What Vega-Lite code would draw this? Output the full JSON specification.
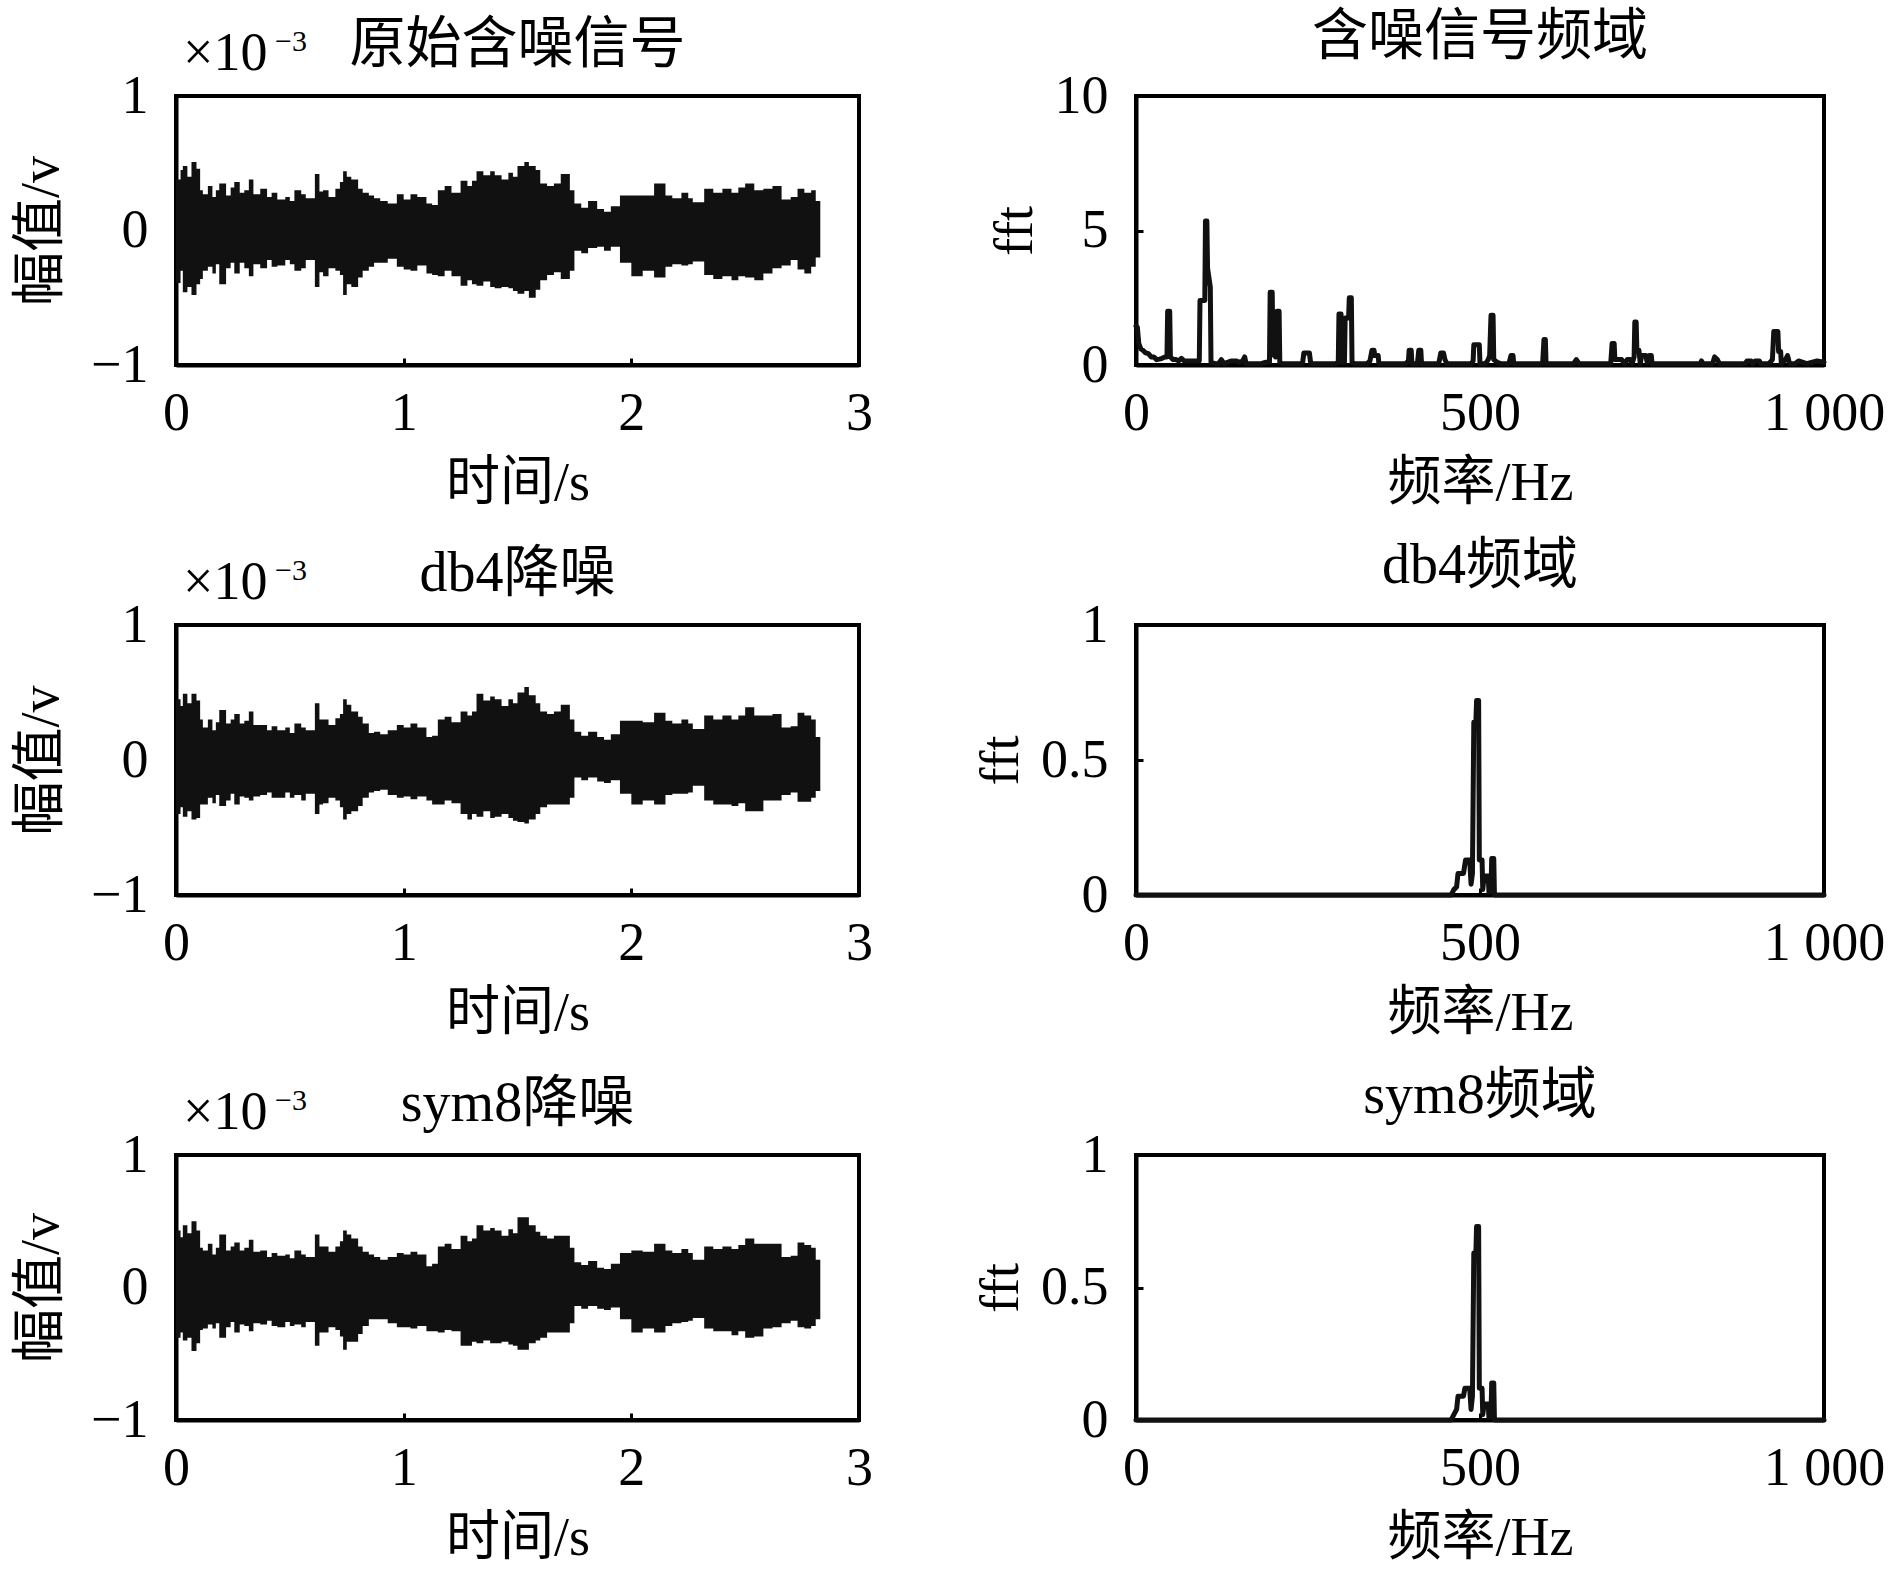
{
  "$schema": "https://vega.github.io/schema/vega-lite/v6.json",
  "background": "white",
  "padding": {"left": 12, "top": 7, "right": 5, "bottom": 5},
  "config": {
    "font": "Liberation Serif, Noto Sans CJK SC",
    "view": {"stroke": "#000", "strokeWidth": 4},
    "axis": {
      "domainColor": "#000", "domainWidth": 4,
      "tickColor": "#000", "tickWidth": 3, "tickSize": -7,
      "labelFont": "Liberation Serif", "labelFontSize": 54, "labelColor": "#000",
      "labelFlush": false, "labelOverlap": false, "labelBound": false, "format": "~r",
      "titleFont": "Liberation Serif, Noto Sans CJK SC", "titleFontSize": 54,
      "titleFontWeight": "normal", "titleColor": "#000", "grid": false
    },
    "axisX": {"labelPadding": 28, "titlePadding": 16},
    "axisY": {"labelPadding": 35, "titlePadding": 22},
    "title": {"font": "Liberation Serif, Noto Sans CJK SC", "fontSize": 56, "fontWeight": "normal", "color": "#000", "anchor": "middle"}
  },
  "datasets": {
    "orig": [
      {"t":0.00,"up":0.38,"lo":-0.39},{"t":0.02,"up":0.45,"lo":-0.30},{"t":0.03,"up":0.48,"lo":-0.46},{"t":0.05,"up":0.40,"lo":-0.42},
      {"t":0.068,"up":0.51,"lo":-0.48},{"t":0.09,"up":0.46,"lo":-0.40},{"t":0.106,"up":0.30,"lo":-0.36},{"t":0.118,"up":0.27,"lo":-0.30},
      {"t":0.14,"up":0.33,"lo":-0.27},{"t":0.16,"up":0.25,"lo":-0.32},{"t":0.175,"up":0.30,"lo":-0.25},{"t":0.19,"up":0.35,"lo":-0.40},
      {"t":0.22,"up":0.26,"lo":-0.28},{"t":0.24,"up":0.32,"lo":-0.24},{"t":0.256,"up":0.36,"lo":-0.32},{"t":0.28,"up":0.28,"lo":-0.24},
      {"t":0.30,"up":0.30,"lo":-0.28},{"t":0.32,"up":0.38,"lo":-0.34},{"t":0.34,"up":0.27,"lo":-0.25},{"t":0.37,"up":0.31,"lo":-0.28},
      {"t":0.40,"up":0.25,"lo":-0.22},{"t":0.42,"up":0.28,"lo":-0.27},{"t":0.445,"up":0.23,"lo":-0.26},{"t":0.48,"up":0.25,"lo":-0.22},
      {"t":0.50,"up":0.22,"lo":-0.25},{"t":0.52,"up":0.30,"lo":-0.30},{"t":0.55,"up":0.27,"lo":-0.28},{"t":0.57,"up":0.24,"lo":-0.22},
      {"t":0.61,"up":0.42,"lo":-0.42},{"t":0.63,"up":0.29,"lo":-0.31},{"t":0.646,"up":0.30,"lo":-0.34},{"t":0.67,"up":0.25,"lo":-0.28},
      {"t":0.70,"up":0.31,"lo":-0.30},{"t":0.72,"up":0.36,"lo":-0.33},{"t":0.734,"up":0.44,"lo":-0.48},{"t":0.75,"up":0.40,"lo":-0.40},
      {"t":0.77,"up":0.38,"lo":-0.42},{"t":0.80,"up":0.31,"lo":-0.35},{"t":0.82,"up":0.28,"lo":-0.30},{"t":0.847,"up":0.26,"lo":-0.27},
      {"t":0.87,"up":0.24,"lo":-0.24},{"t":0.897,"up":0.22,"lo":-0.24},{"t":0.93,"up":0.20,"lo":-0.21},{"t":0.97,"up":0.27,"lo":-0.27},
      {"t":1.00,"up":0.23,"lo":-0.29},{"t":1.03,"up":0.27,"lo":-0.30},{"t":1.06,"up":0.25,"lo":-0.26},{"t":1.10,"up":0.20,"lo":-0.32},
      {"t":1.125,"up":0.19,"lo":-0.33},{"t":1.15,"up":0.30,"lo":-0.34},{"t":1.18,"up":0.33,"lo":-0.30},{"t":1.21,"up":0.28,"lo":-0.34},
      {"t":1.25,"up":0.37,"lo":-0.41},{"t":1.28,"up":0.33,"lo":-0.37},{"t":1.30,"up":0.37,"lo":-0.40},{"t":1.32,"up":0.44,"lo":-0.41},
      {"t":1.35,"up":0.41,"lo":-0.38},{"t":1.38,"up":0.44,"lo":-0.42},{"t":1.40,"up":0.41,"lo":-0.43},{"t":1.43,"up":0.38,"lo":-0.42},
      {"t":1.46,"up":0.43,"lo":-0.43},{"t":1.48,"up":0.40,"lo":-0.45},{"t":1.50,"up":0.48,"lo":-0.47},{"t":1.53,"up":0.51,"lo":-0.45},
      {"t":1.55,"up":0.48,"lo":-0.50},{"t":1.58,"up":0.45,"lo":-0.44},{"t":1.60,"up":0.35,"lo":-0.37},{"t":1.63,"up":0.33,"lo":-0.33},
      {"t":1.66,"up":0.35,"lo":-0.31},{"t":1.69,"up":0.42,"lo":-0.36},{"t":1.73,"up":0.30,"lo":-0.30},{"t":1.75,"up":0.20,"lo":-0.15},
      {"t":1.78,"up":0.17,"lo":-0.17},{"t":1.81,"up":0.22,"lo":-0.13},{"t":1.85,"up":0.16,"lo":-0.12},{"t":1.88,"up":0.14,"lo":-0.15},
      {"t":1.91,"up":0.18,"lo":-0.12},{"t":1.95,"up":0.26,"lo":-0.24},{"t":2.00,"up":0.26,"lo":-0.34},{"t":2.05,"up":0.26,"lo":-0.30},
      {"t":2.10,"up":0.35,"lo":-0.35},{"t":2.15,"up":0.26,"lo":-0.27},{"t":2.18,"up":0.24,"lo":-0.25},{"t":2.22,"up":0.28,"lo":-0.26},
      {"t":2.25,"up":0.24,"lo":-0.25},{"t":2.27,"up":0.21,"lo":-0.23},{"t":2.32,"up":0.31,"lo":-0.33},{"t":2.36,"up":0.28,"lo":-0.36},
      {"t":2.40,"up":0.31,"lo":-0.34},{"t":2.44,"up":0.28,"lo":-0.37},{"t":2.47,"up":0.32,"lo":-0.34},{"t":2.50,"up":0.35,"lo":-0.35},
      {"t":2.54,"up":0.30,"lo":-0.37},{"t":2.58,"up":0.31,"lo":-0.32},{"t":2.62,"up":0.33,"lo":-0.28},{"t":2.66,"up":0.23,"lo":-0.26},
      {"t":2.70,"up":0.25,"lo":-0.22},{"t":2.73,"up":0.31,"lo":-0.29},{"t":2.76,"up":0.28,"lo":-0.32},{"t":2.79,"up":0.30,"lo":-0.27},
      {"t":2.81,"up":0.22,"lo":-0.20},{"t":2.83,"up":0.22,"lo":-0.20}
    ],
    "db4": [
      {"t":0.00,"up":0.45,"lo":-0.40},{"t":0.02,"up":0.40,"lo":-0.35},{"t":0.03,"up":0.49,"lo":-0.42},{"t":0.05,"up":0.42,"lo":-0.38},
      {"t":0.068,"up":0.49,"lo":-0.44},{"t":0.09,"up":0.44,"lo":-0.43},{"t":0.106,"up":0.30,"lo":-0.33},{"t":0.118,"up":0.24,"lo":-0.33},
      {"t":0.14,"up":0.30,"lo":-0.28},{"t":0.16,"up":0.22,"lo":-0.32},{"t":0.175,"up":0.28,"lo":-0.26},{"t":0.19,"up":0.37,"lo":-0.34},
      {"t":0.22,"up":0.27,"lo":-0.30},{"t":0.24,"up":0.30,"lo":-0.25},{"t":0.256,"up":0.34,"lo":-0.33},{"t":0.28,"up":0.27,"lo":-0.27},
      {"t":0.30,"up":0.29,"lo":-0.28},{"t":0.32,"up":0.36,"lo":-0.30},{"t":0.34,"up":0.26,"lo":-0.27},{"t":0.37,"up":0.26,"lo":-0.26},
      {"t":0.40,"up":0.22,"lo":-0.24},{"t":0.42,"up":0.25,"lo":-0.28},{"t":0.445,"up":0.22,"lo":-0.28},{"t":0.48,"up":0.24,"lo":-0.24},
      {"t":0.50,"up":0.20,"lo":-0.28},{"t":0.52,"up":0.27,"lo":-0.26},{"t":0.55,"up":0.24,"lo":-0.30},{"t":0.57,"up":0.22,"lo":-0.25},
      {"t":0.61,"up":0.42,"lo":-0.40},{"t":0.63,"up":0.30,"lo":-0.33},{"t":0.646,"up":0.30,"lo":-0.32},{"t":0.67,"up":0.26,"lo":-0.28},
      {"t":0.70,"up":0.31,"lo":-0.30},{"t":0.72,"up":0.34,"lo":-0.35},{"t":0.734,"up":0.45,"lo":-0.44},{"t":0.75,"up":0.41,"lo":-0.40},
      {"t":0.77,"up":0.36,"lo":-0.38},{"t":0.80,"up":0.32,"lo":-0.34},{"t":0.82,"up":0.27,"lo":-0.28},{"t":0.847,"up":0.20,"lo":-0.24},
      {"t":0.87,"up":0.21,"lo":-0.23},{"t":0.897,"up":0.19,"lo":-0.22},{"t":0.93,"up":0.22,"lo":-0.26},{"t":0.97,"up":0.26,"lo":-0.28},
      {"t":1.00,"up":0.24,"lo":-0.27},{"t":1.03,"up":0.27,"lo":-0.29},{"t":1.06,"up":0.24,"lo":-0.27},{"t":1.10,"up":0.17,"lo":-0.30},
      {"t":1.125,"up":0.18,"lo":-0.33},{"t":1.15,"up":0.30,"lo":-0.33},{"t":1.18,"up":0.32,"lo":-0.30},{"t":1.21,"up":0.28,"lo":-0.32},
      {"t":1.25,"up":0.36,"lo":-0.40},{"t":1.28,"up":0.33,"lo":-0.44},{"t":1.30,"up":0.36,"lo":-0.40},{"t":1.32,"up":0.49,"lo":-0.42},
      {"t":1.35,"up":0.44,"lo":-0.38},{"t":1.38,"up":0.47,"lo":-0.43},{"t":1.40,"up":0.45,"lo":-0.42},{"t":1.43,"up":0.40,"lo":-0.40},
      {"t":1.46,"up":0.45,"lo":-0.43},{"t":1.48,"up":0.42,"lo":-0.45},{"t":1.50,"up":0.50,"lo":-0.46},{"t":1.53,"up":0.54,"lo":-0.47},
      {"t":1.55,"up":0.48,"lo":-0.44},{"t":1.58,"up":0.42,"lo":-0.40},{"t":1.60,"up":0.36,"lo":-0.35},{"t":1.63,"up":0.34,"lo":-0.33},
      {"t":1.66,"up":0.36,"lo":-0.33},{"t":1.69,"up":0.41,"lo":-0.33},{"t":1.73,"up":0.30,"lo":-0.28},{"t":1.75,"up":0.21,"lo":-0.13},
      {"t":1.78,"up":0.18,"lo":-0.15},{"t":1.81,"up":0.21,"lo":-0.13},{"t":1.85,"up":0.17,"lo":-0.16},{"t":1.88,"up":0.15,"lo":-0.17},
      {"t":1.91,"up":0.19,"lo":-0.15},{"t":1.95,"up":0.29,"lo":-0.25},{"t":2.00,"up":0.29,"lo":-0.33},{"t":2.05,"up":0.28,"lo":-0.30},
      {"t":2.10,"up":0.35,"lo":-0.33},{"t":2.15,"up":0.29,"lo":-0.26},{"t":2.18,"up":0.27,"lo":-0.25},{"t":2.22,"up":0.30,"lo":-0.25},
      {"t":2.25,"up":0.27,"lo":-0.24},{"t":2.27,"up":0.23,"lo":-0.19},{"t":2.32,"up":0.33,"lo":-0.30},{"t":2.36,"up":0.30,"lo":-0.33},
      {"t":2.40,"up":0.33,"lo":-0.33},{"t":2.44,"up":0.30,"lo":-0.34},{"t":2.47,"up":0.33,"lo":-0.32},{"t":2.50,"up":0.39,"lo":-0.38},
      {"t":2.54,"up":0.33,"lo":-0.38},{"t":2.58,"up":0.33,"lo":-0.30},{"t":2.62,"up":0.34,"lo":-0.30},{"t":2.66,"up":0.24,"lo":-0.26},
      {"t":2.70,"up":0.25,"lo":-0.24},{"t":2.73,"up":0.35,"lo":-0.31},{"t":2.76,"up":0.33,"lo":-0.31},{"t":2.79,"up":0.30,"lo":-0.28},
      {"t":2.81,"up":0.17,"lo":-0.23},{"t":2.83,"up":0.17,"lo":-0.23}
    ],
    "sym8": [
      {"t":0.00,"up":0.43,"lo":-0.38},{"t":0.02,"up":0.38,"lo":-0.34},{"t":0.03,"up":0.47,"lo":-0.40},{"t":0.05,"up":0.41,"lo":-0.38},
      {"t":0.068,"up":0.50,"lo":-0.48},{"t":0.09,"up":0.43,"lo":-0.42},{"t":0.106,"up":0.30,"lo":-0.32},{"t":0.118,"up":0.28,"lo":-0.31},
      {"t":0.14,"up":0.33,"lo":-0.28},{"t":0.16,"up":0.25,"lo":-0.31},{"t":0.175,"up":0.30,"lo":-0.27},{"t":0.19,"up":0.40,"lo":-0.38},
      {"t":0.22,"up":0.28,"lo":-0.30},{"t":0.24,"up":0.31,"lo":-0.26},{"t":0.256,"up":0.34,"lo":-0.34},{"t":0.28,"up":0.28,"lo":-0.28},
      {"t":0.30,"up":0.30,"lo":-0.29},{"t":0.32,"up":0.36,"lo":-0.33},{"t":0.34,"up":0.27,"lo":-0.27},{"t":0.37,"up":0.28,"lo":-0.28},
      {"t":0.40,"up":0.23,"lo":-0.25},{"t":0.42,"up":0.26,"lo":-0.29},{"t":0.445,"up":0.24,"lo":-0.30},{"t":0.48,"up":0.25,"lo":-0.26},
      {"t":0.50,"up":0.22,"lo":-0.29},{"t":0.52,"up":0.28,"lo":-0.28},{"t":0.55,"up":0.25,"lo":-0.30},{"t":0.57,"up":0.23,"lo":-0.26},
      {"t":0.61,"up":0.40,"lo":-0.44},{"t":0.63,"up":0.31,"lo":-0.34},{"t":0.646,"up":0.31,"lo":-0.34},{"t":0.67,"up":0.27,"lo":-0.30},
      {"t":0.70,"up":0.31,"lo":-0.32},{"t":0.72,"up":0.35,"lo":-0.37},{"t":0.734,"up":0.43,"lo":-0.47},{"t":0.75,"up":0.40,"lo":-0.41},
      {"t":0.77,"up":0.37,"lo":-0.41},{"t":0.80,"up":0.31,"lo":-0.35},{"t":0.82,"up":0.27,"lo":-0.29},{"t":0.847,"up":0.25,"lo":-0.24},
      {"t":0.87,"up":0.23,"lo":-0.24},{"t":0.897,"up":0.21,"lo":-0.24},{"t":0.93,"up":0.23,"lo":-0.27},{"t":0.97,"up":0.26,"lo":-0.30},
      {"t":1.00,"up":0.25,"lo":-0.30},{"t":1.03,"up":0.27,"lo":-0.31},{"t":1.06,"up":0.25,"lo":-0.29},{"t":1.10,"up":0.16,"lo":-0.33},
      {"t":1.125,"up":0.18,"lo":-0.33},{"t":1.15,"up":0.31,"lo":-0.34},{"t":1.18,"up":0.33,"lo":-0.32},{"t":1.21,"up":0.29,"lo":-0.33},
      {"t":1.25,"up":0.39,"lo":-0.44},{"t":1.28,"up":0.35,"lo":-0.44},{"t":1.30,"up":0.37,"lo":-0.41},{"t":1.32,"up":0.47,"lo":-0.42},
      {"t":1.35,"up":0.43,"lo":-0.40},{"t":1.38,"up":0.45,"lo":-0.42},{"t":1.40,"up":0.43,"lo":-0.42},{"t":1.43,"up":0.39,"lo":-0.41},
      {"t":1.46,"up":0.44,"lo":-0.43},{"t":1.48,"up":0.41,"lo":-0.44},{"t":1.50,"up":0.53,"lo":-0.47},{"t":1.53,"up":0.53,"lo":-0.47},
      {"t":1.55,"up":0.47,"lo":-0.42},{"t":1.58,"up":0.42,"lo":-0.40},{"t":1.60,"up":0.39,"lo":-0.38},{"t":1.63,"up":0.37,"lo":-0.34},
      {"t":1.66,"up":0.39,"lo":-0.34},{"t":1.69,"up":0.39,"lo":-0.34},{"t":1.73,"up":0.30,"lo":-0.27},{"t":1.75,"up":0.19,"lo":-0.14},
      {"t":1.78,"up":0.17,"lo":-0.16},{"t":1.81,"up":0.20,"lo":-0.14},{"t":1.85,"up":0.15,"lo":-0.16},{"t":1.88,"up":0.14,"lo":-0.17},
      {"t":1.91,"up":0.18,"lo":-0.15},{"t":1.95,"up":0.26,"lo":-0.24},{"t":2.00,"up":0.28,"lo":-0.34},{"t":2.05,"up":0.27,"lo":-0.31},
      {"t":2.10,"up":0.33,"lo":-0.34},{"t":2.15,"up":0.28,"lo":-0.29},{"t":2.18,"up":0.26,"lo":-0.27},{"t":2.22,"up":0.29,"lo":-0.26},
      {"t":2.25,"up":0.26,"lo":-0.25},{"t":2.27,"up":0.21,"lo":-0.23},{"t":2.32,"up":0.31,"lo":-0.31},{"t":2.36,"up":0.29,"lo":-0.33},
      {"t":2.40,"up":0.31,"lo":-0.33},{"t":2.44,"up":0.29,"lo":-0.36},{"t":2.47,"up":0.32,"lo":-0.33},{"t":2.50,"up":0.37,"lo":-0.38},
      {"t":2.54,"up":0.33,"lo":-0.37},{"t":2.58,"up":0.33,"lo":-0.31},{"t":2.62,"up":0.33,"lo":-0.30},{"t":2.66,"up":0.23,"lo":-0.27},
      {"t":2.70,"up":0.24,"lo":-0.25},{"t":2.73,"up":0.34,"lo":-0.30},{"t":2.76,"up":0.32,"lo":-0.31},{"t":2.79,"up":0.30,"lo":-0.29},
      {"t":2.81,"up":0.21,"lo":-0.24},{"t":2.83,"up":0.21,"lo":-0.24}
    ],
    "spec_noisy": [
      {"f":0,"a":1.45},{"f":2,"a":1.4},{"f":4,"a":0.8},{"f":7,"a":0.6},{"f":10,"a":0.55},{"f":14,"a":0.45},{"f":18,"a":0.42},{"f":22,"a":0.3},
      {"f":26,"a":0.3},{"f":30,"a":0.2},{"f":34,"a":0.22},{"f":38,"a":0.25},{"f":42,"a":0.3},{"f":45,"a":0.3},{"f":46,"a":2.0},{"f":49,"a":2.0},
      {"f":50,"a":0.3},{"f":54,"a":0.2},{"f":58,"a":0.2},{"f":62,"a":0.15},{"f":66,"a":0.25},{"f":70,"a":0.15},{"f":80,"a":0.15},{"f":92,"a":0.15},
      {"f":93,"a":2.4},{"f":100,"a":2.4},{"f":101,"a":5.35},{"f":103,"a":5.35},{"f":104,"a":3.6},{"f":108,"a":2.9},{"f":109,"a":0.1},{"f":115,"a":0.05},
      {"f":120,"a":0.05},{"f":124,"a":0.2},{"f":128,"a":0.05},{"f":138,"a":0.15},{"f":146,"a":0.15},{"f":150,"a":0.1},{"f":155,"a":0.15},{"f":158,"a":0.3},
      {"f":160,"a":0.05},{"f":182,"a":0.05},{"f":188,"a":0.1},{"f":194,"a":0.1},{"f":195,"a":2.7},{"f":198,"a":2.7},{"f":199,"a":0.4},{"f":203,"a":0.3},
      {"f":205,"a":2.0},{"f":208,"a":2.0},{"f":209,"a":0.1},{"f":212,"a":0.05},{"f":242,"a":0.05},{"f":244,"a":0.45},{"f":252,"a":0.45},{"f":254,"a":0.05},
      {"f":290,"a":0.05},{"f":294,"a":0.1},{"f":295,"a":1.9},{"f":298,"a":1.9},{"f":299,"a":0.1},{"f":303,"a":0.1},{"f":304,"a":1.75},{"f":309,"a":1.75},
      {"f":310,"a":2.5},{"f":313,"a":2.5},{"f":314,"a":0.1},{"f":318,"a":0.05},{"f":336,"a":0.05},{"f":340,"a":0.15},{"f":343,"a":0.55},{"f":346,"a":0.55},
      {"f":347,"a":0.35},{"f":352,"a":0.35},{"f":353,"a":0.05},{"f":392,"a":0.05},{"f":396,"a":0.15},{"f":397,"a":0.55},{"f":400,"a":0.55},{"f":401,"a":0.05},
      {"f":409,"a":0.05},{"f":411,"a":0.55},{"f":414,"a":0.55},{"f":415,"a":0.05},{"f":440,"a":0.05},{"f":443,"a":0.45},{"f":447,"a":0.45},{"f":449,"a":0.2},
      {"f":452,"a":0.05},{"f":487,"a":0.05},{"f":490,"a":0.15},{"f":491,"a":0.75},{"f":499,"a":0.75},{"f":500,"a":0.05},{"f":508,"a":0.05},{"f":512,"a":0.2},
      {"f":514,"a":0.35},{"f":516,"a":1.85},{"f":519,"a":1.85},{"f":520,"a":0.2},{"f":525,"a":0.1},{"f":530,"a":0.05},{"f":542,"a":0.05},{"f":545,"a":0.35},
      {"f":548,"a":0.35},{"f":549,"a":0.05},{"f":591,"a":0.05},{"f":593,"a":0.95},{"f":595,"a":0.95},{"f":596,"a":0.05},{"f":636,"a":0.05},{"f":640,"a":0.2},
      {"f":644,"a":0.05},{"f":690,"a":0.05},{"f":692,"a":0.8},{"f":695,"a":0.8},{"f":696,"a":0.2},{"f":700,"a":0.2},{"f":706,"a":0.2},{"f":710,"a":0.05},
      {"f":714,"a":0.2},{"f":718,"a":0.2},{"f":721,"a":0.05},{"f":724,"a":0.3},{"f":725,"a":1.6},{"f":727,"a":1.6},{"f":728,"a":0.55},{"f":731,"a":0.55},
      {"f":733,"a":0.05},{"f":735,"a":0.35},{"f":741,"a":0.35},{"f":743,"a":0.1},{"f":746,"a":0.35},{"f":749,"a":0.35},{"f":750,"a":0.05},{"f":820,"a":0.05},
      {"f":822,"a":0.15},{"f":824,"a":0.05},{"f":838,"a":0.05},{"f":841,"a":0.3},{"f":845,"a":0.2},{"f":848,"a":0.05},{"f":885,"a":0.05},{"f":888,"a":0.15},
      {"f":894,"a":0.15},{"f":896,"a":0.05},{"f":900,"a":0.15},{"f":906,"a":0.15},{"f":908,"a":0.05},{"f":920,"a":0.05},{"f":925,"a":0.2},{"f":927,"a":1.25},
      {"f":933,"a":1.25},{"f":934,"a":0.5},{"f":937,"a":0.5},{"f":938,"a":0.05},{"f":944,"a":0.2},{"f":947,"a":0.35},{"f":950,"a":0.05},{"f":958,"a":0.05},
      {"f":963,"a":0.15},{"f":975,"a":0.05},{"f":990,"a":0.15},{"f":1000,"a":0.1}
    ],
    "spec_db4": [
      {"f":0,"a":0},{"f":458,"a":0},{"f":462,"a":0.02},{"f":466,"a":0.03},{"f":468,"a":0.08},{"f":476,"a":0.08},{"f":479,"a":0.13},{"f":485,"a":0.13},
      {"f":487,"a":0.04},{"f":489,"a":0.08},{"f":491,"a":0.64},{"f":494,"a":0.64},{"f":495,"a":0.72},{"f":498,"a":0.72},{"f":499,"a":0.13},{"f":503,"a":0.13},
      {"f":504,"a":0.02},{"f":506,"a":0.07},{"f":512,"a":0.07},{"f":513,"a":0.01},{"f":516,"a":0.02},{"f":517,"a":0.135},{"f":520,"a":0.135},{"f":521,"a":0},
      {"f":1000,"a":0}
    ],
    "spec_sym8": [
      {"f":0,"a":0},{"f":458,"a":0},{"f":462,"a":0.02},{"f":466,"a":0.04},{"f":468,"a":0.09},{"f":476,"a":0.09},{"f":478,"a":0.12},{"f":485,"a":0.12},
      {"f":487,"a":0.04},{"f":489,"a":0.09},{"f":491,"a":0.63},{"f":494,"a":0.63},{"f":495,"a":0.73},{"f":498,"a":0.73},{"f":499,"a":0.12},{"f":503,"a":0.12},
      {"f":504,"a":0.02},{"f":506,"a":0.06},{"f":512,"a":0.06},{"f":513,"a":0.01},{"f":516,"a":0.02},{"f":517,"a":0.14},{"f":520,"a":0.14},{"f":521,"a":0},
      {"f":1000,"a":0}
    ]
  },
  "columns": 2,
  "spacing": {"row": 260, "column": 277},
  "bounds": "flush",
  "concat": [
    {
      "width": 683, "height": 269,
      "title": {"text": "原始含噪信号", "offset": -47},
      "layer": [
        {
          "data": {"name": "orig"},
          "mark": {"type": "area", "interpolate": "step-after", "color": "#111"},
          "encoding": {
            "x": {"field": "t", "type": "quantitative", "scale": {"domain": [0, 3], "nice": false}, "axis": {"values": [0, 1, 2, 3], "title": "时间/s"}},
            "y": {"field": "up", "type": "quantitative", "scale": {"domain": [-1, 1], "nice": false}, "axis": {"values": [-1, 0, 1], "title": "幅值/v"}},
            "y2": {"field": "lo"}
          }
        },
        {
          "data": {"values": [{}]},
          "mark": {"type": "text", "text": "×10", "font": "Liberation Serif", "fontSize": 54, "align": "left", "baseline": "alphabetic", "dx": 7, "dy": -26, "color": "#000"},
          "encoding": {"x": {"datum": 0, "type": "quantitative"}, "y": {"datum": 1, "type": "quantitative"}}
        },
        {
          "data": {"values": [{}]},
          "mark": {"type": "text", "text": "−3", "font": "Liberation Serif", "fontSize": 30, "align": "left", "baseline": "alphabetic", "dx": 99, "dy": -45, "color": "#000"},
          "encoding": {"x": {"datum": 0, "type": "quantitative"}, "y": {"datum": 1, "type": "quantitative"}}
        }
      ]
    },
    {
      "width": 688, "height": 269,
      "title": {"text": "含噪信号频域", "offset": 3},
      "data": {"name": "spec_noisy"},
      "mark": {"type": "line", "color": "#111", "strokeWidth": 5, "strokeJoin": "round", "strokeCap": "round"},
      "encoding": {
        "x": {"field": "f", "type": "quantitative", "scale": {"domain": [0, 1000], "nice": false}, "axis": {"values": [0, 500, 1000], "title": "频率/Hz", "labelExpr": "datum.value == 1000 ? '1 000' : datum.label"}},
        "y": {"field": "a", "type": "quantitative", "scale": {"domain": [0, 10], "nice": false}, "axis": {"values": [0, 5, 10], "title": "fft", "titlePadding": 12}}
      }
    },
    {
      "width": 683, "height": 270,
      "title": {"text": "db4降噪", "offset": -47},
      "layer": [
        {
          "data": {"name": "db4"},
          "mark": {"type": "area", "interpolate": "step-after", "color": "#111"},
          "encoding": {
            "x": {"field": "t", "type": "quantitative", "scale": {"domain": [0, 3], "nice": false}, "axis": {"values": [0, 1, 2, 3], "title": "时间/s"}},
            "y": {"field": "up", "type": "quantitative", "scale": {"domain": [-1, 1], "nice": false}, "axis": {"values": [-1, 0, 1], "title": "幅值/v"}},
            "y2": {"field": "lo"}
          }
        },
        {
          "data": {"values": [{}]},
          "mark": {"type": "text", "text": "×10", "font": "Liberation Serif", "fontSize": 54, "align": "left", "baseline": "alphabetic", "dx": 7, "dy": -26, "color": "#000"},
          "encoding": {"x": {"datum": 0, "type": "quantitative"}, "y": {"datum": 1, "type": "quantitative"}}
        },
        {
          "data": {"values": [{}]},
          "mark": {"type": "text", "text": "−3", "font": "Liberation Serif", "fontSize": 30, "align": "left", "baseline": "alphabetic", "dx": 99, "dy": -45, "color": "#000"},
          "encoding": {"x": {"datum": 0, "type": "quantitative"}, "y": {"datum": 1, "type": "quantitative"}}
        }
      ]
    },
    {
      "width": 688, "height": 270,
      "title": {"text": "db4频域", "offset": 3},
      "data": {"name": "spec_db4"},
      "mark": {"type": "line", "color": "#111", "strokeWidth": 5, "strokeJoin": "round", "strokeCap": "round"},
      "encoding": {
        "x": {"field": "f", "type": "quantitative", "scale": {"domain": [0, 1000], "nice": false}, "axis": {"values": [0, 500, 1000], "title": "频率/Hz", "labelExpr": "datum.value == 1000 ? '1 000' : datum.label"}},
        "y": {"field": "a", "type": "quantitative", "scale": {"domain": [0, 1], "nice": false}, "axis": {"values": [0, 0.5, 1], "title": "fft", "titlePadding": 12}}
      }
    },
    {
      "width": 683, "height": 265,
      "title": {"text": "sym8降噪", "offset": -47},
      "layer": [
        {
          "data": {"name": "sym8"},
          "mark": {"type": "area", "interpolate": "step-after", "color": "#111"},
          "encoding": {
            "x": {"field": "t", "type": "quantitative", "scale": {"domain": [0, 3], "nice": false}, "axis": {"values": [0, 1, 2, 3], "title": "时间/s"}},
            "y": {"field": "up", "type": "quantitative", "scale": {"domain": [-1, 1], "nice": false}, "axis": {"values": [-1, 0, 1], "title": "幅值/v"}},
            "y2": {"field": "lo"}
          }
        },
        {
          "data": {"values": [{}]},
          "mark": {"type": "text", "text": "×10", "font": "Liberation Serif", "fontSize": 54, "align": "left", "baseline": "alphabetic", "dx": 7, "dy": -26, "color": "#000"},
          "encoding": {"x": {"datum": 0, "type": "quantitative"}, "y": {"datum": 1, "type": "quantitative"}}
        },
        {
          "data": {"values": [{}]},
          "mark": {"type": "text", "text": "−3", "font": "Liberation Serif", "fontSize": 30, "align": "left", "baseline": "alphabetic", "dx": 99, "dy": -45, "color": "#000"},
          "encoding": {"x": {"datum": 0, "type": "quantitative"}, "y": {"datum": 1, "type": "quantitative"}}
        }
      ]
    },
    {
      "width": 688, "height": 265,
      "title": {"text": "sym8频域", "offset": 3},
      "data": {"name": "spec_sym8"},
      "mark": {"type": "line", "color": "#111", "strokeWidth": 5, "strokeJoin": "round", "strokeCap": "round"},
      "encoding": {
        "x": {"field": "f", "type": "quantitative", "scale": {"domain": [0, 1000], "nice": false}, "axis": {"values": [0, 500, 1000], "title": "频率/Hz", "labelExpr": "datum.value == 1000 ? '1 000' : datum.label"}},
        "y": {"field": "a", "type": "quantitative", "scale": {"domain": [0, 1], "nice": false}, "axis": {"values": [0, 0.5, 1], "title": "fft", "titlePadding": 12}}
      }
    }
  ]
}
